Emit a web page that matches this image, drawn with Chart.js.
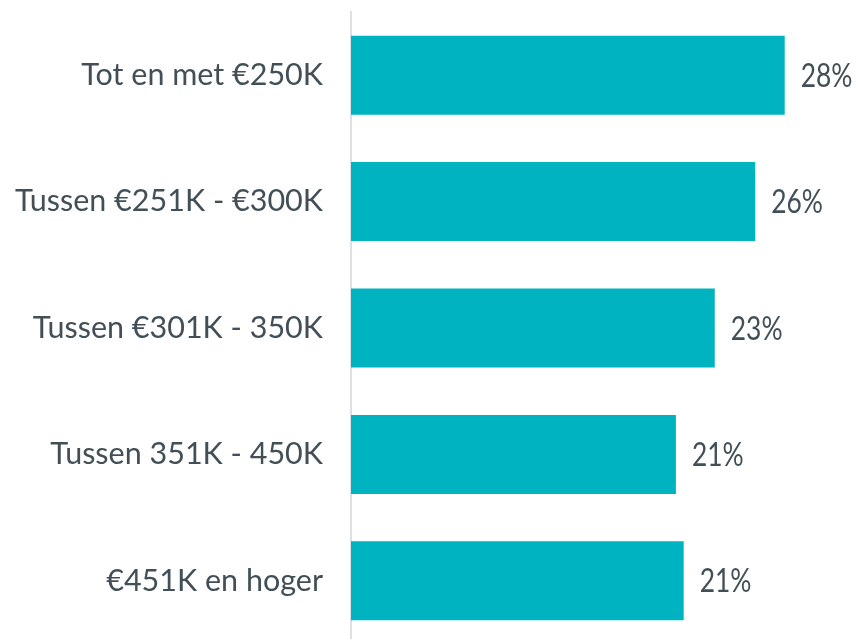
<!DOCTYPE html>
<html>
<head>
<meta charset="utf-8">
<script src="https://cdn.jsdelivr.net/npm/chart.js@4.4.1/dist/chart.umd.min.js"></script>
<style>
  html, body { margin: 0; padding: 0; background: #fff; overflow: hidden; }
  canvas { display: block; }
</style>
</head>
<body>
<canvas id="barChart" width="864" height="645"></canvas>
<script>
const categories = [
  "Tot en met €250K",
  "Tussen €251K - €300K",
  "Tussen €301K - 350K",
  "Tussen 351K - 450K",
  "€451K en hoger"
];
const values = [27.9, 26.0, 23.4, 20.9, 21.4];

const textColor = "#434f57";
const fontFamily = "Lato, 'Open Sans', sans-serif";

// draw the % labels to the right of every bar (slightly condensed, like the original)
const valueLabels = {
  id: "valueLabels",
  afterDatasetsDraw(chart) {
    const ctx = chart.ctx;
    const meta = chart.getDatasetMeta(0);
    meta.data.forEach((bar, i) => {
      ctx.save();
      ctx.translate(bar.x + 16, bar.y + 1);
      ctx.scale(0.8, 1);
      ctx.font = "33px " + fontFamily;
      ctx.fillStyle = textColor;
      ctx.textAlign = "left";
      ctx.textBaseline = "middle";
      ctx.fillText(Math.round(values[i]) + "%", 0, 0);
      ctx.restore();
    });
  }
};

new Chart(document.getElementById("barChart").getContext("2d"), {
  type: "bar",
  data: {
    labels: categories,
    datasets: [
      {
        data: values,
        backgroundColor: "#00b3c1",
        categoryPercentage: 1,
        barPercentage: 0.625,
      },
    ],
  },
  options: {
    indexAxis: "y",
    responsive: false,
    animation: false,
    layout: { padding: { top: 12, bottom: 1, left: 0, right: 0 } },
    plugins: { legend: { display: false }, tooltip: { enabled: false } },
    scales: {
      x: { display: false, min: 0, max: 33 },
      y: {
        afterFit(scale) {
          scale.width = 351;
          // no extra room above/below for the labels
          scale.paddingTop = 0;
          scale.paddingBottom = 0;
        },
        grid: { display: false, drawTicks: false },
        border: { display: true, color: "#dde1e6", width: 2 },
        ticks: {
          padding: 28,
          color: textColor,
          font: { family: fontFamily, size: 30.5 },
        },
      },
    },
  },
  plugins: [valueLabels],
});
</script>
</body>
</html>
